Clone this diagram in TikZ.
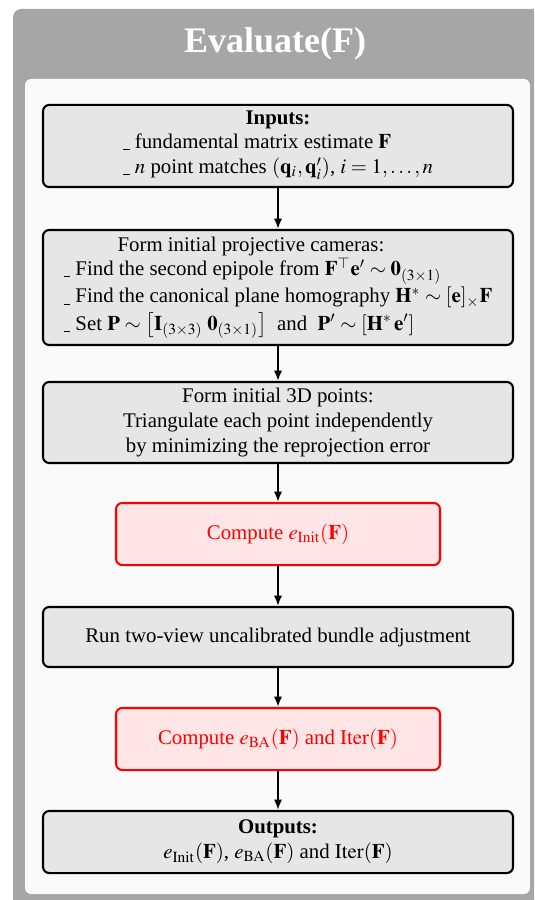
\documentclass[tikz,border=0pt]{standalone}
\usepackage{mathptmx}
\usepackage{fontspec}
\setmainfont{Liberation Serif}
\usepackage{xcolor}
\definecolor{frameGray}{HTML}{A6A6A6}
\definecolor{panelWhite}{HTML}{FAFAFA}
\definecolor{boxGray}{HTML}{E6E6E6}
\definecolor{errRed}{HTML}{FF0000}
\definecolor{errFill}{HTML}{FFE5E5}
\usetikzlibrary{arrows.meta}

\newcommand{\lowdash}{\rule[-0.8pt]{3.2pt}{0.5pt}}

\tikzset{
  procbox/.style={draw=black, fill=boxGray, line width=1pt, rounded corners=3pt,
    minimum width=225.6pt, align=center, inner sep=2pt},
  evalbox/.style={draw=errRed, fill=errFill, text=errRed, line width=1pt, rounded corners=3pt,
    minimum width=155.5pt, minimum height=29.8pt, align=center},
  flowarrow/.style={-{Latex[length=5pt,width=4pt]}, line width=0.9pt}
}

\begin{document}
\begin{tikzpicture}[x=0.48pt, y=-0.48pt]
  \useasboundingbox (0,0) rectangle (534,900);
  \begin{scope}
    \clip (0,0) rectangle (534,900);
    \filldraw[fill=frameGray, draw=none, rounded corners=4pt] (13,9) rectangle (560,930);
    \filldraw[fill=panelWhite, draw=none, rounded corners=3pt] (25,79) rectangle (530,894);
  \end{scope}
  \node[text=white, font=\LARGE\bfseries] (title) at (275,44) {Evaluate(F)};

  \node[procbox, minimum height=39.4pt] (inputs) at (278,146) {\textbf{Inputs:}\\
    \begin{tabular}{@{}l@{}}
      \lowdash\ fundamental matrix estimate $\mathbf{F}$\\
      \lowdash\ $n$ point matches $(\mathbf{q}_i,\mathbf{q}'_i)$, $i=1,\ldots,n$
    \end{tabular}};
  \node[procbox, minimum height=55.2pt] (cameras) at (278,287.5) {\hspace*{-26pt}Form initial projective cameras:\\
    \begin{tabular}{@{}l@{}}
      \lowdash\ Find the second epipole from $\mathbf{F}^{\top}\mathbf{e}'\sim\mathbf{0}_{(3\times1)}$\\[1pt]
      \lowdash\ Find the canonical plane homography $\mathbf{H}^{*}\sim[\mathbf{e}]_{\times}\mathbf{F}$\\[1pt]
      \lowdash\ Set $\mathbf{P}\sim\big[\mathbf{I}_{(3\times3)}\;\mathbf{0}_{(3\times1)}\big]$~~and~~$\mathbf{P}'\sim[\mathbf{H}^{*}\,\mathbf{e}']$
    \end{tabular}};
  \node[procbox, minimum height=38.9pt] (points) at (278,422.5) {Form initial 3D points:\\
    Triangulate each point independently\\
    by minimizing the reprojection error};
  \node[evalbox] (einit) at (278,534) {Compute $e_{\mathrm{Init}}(\mathbf{F})$};
  \node[procbox, minimum height=28.8pt] (bundle) at (278,637) {Run two-view uncalibrated bundle adjustment};
  \node[evalbox] (eba) at (278,739) {Compute $e_{\mathrm{BA}}(\mathbf{F})$ and $\mathrm{Iter}(\mathbf{F})$};
  \node[procbox, minimum height=29.8pt] (outputs) at (278,842) {\textbf{Outputs:}\\
    $e_{\mathrm{Init}}(\mathbf{F})$, $e_{\mathrm{BA}}(\mathbf{F})$ and $\mathrm{Iter}(\mathbf{F})$};

  \draw[flowarrow] (inputs) -- (cameras);
  \draw[flowarrow] (cameras) -- (points);
  \draw[flowarrow] (points) -- (einit);
  \draw[flowarrow] (einit) -- (bundle);
  \draw[flowarrow] (bundle) -- (eba);
  \draw[flowarrow] (eba) -- (outputs);
\end{tikzpicture}
\end{document}
